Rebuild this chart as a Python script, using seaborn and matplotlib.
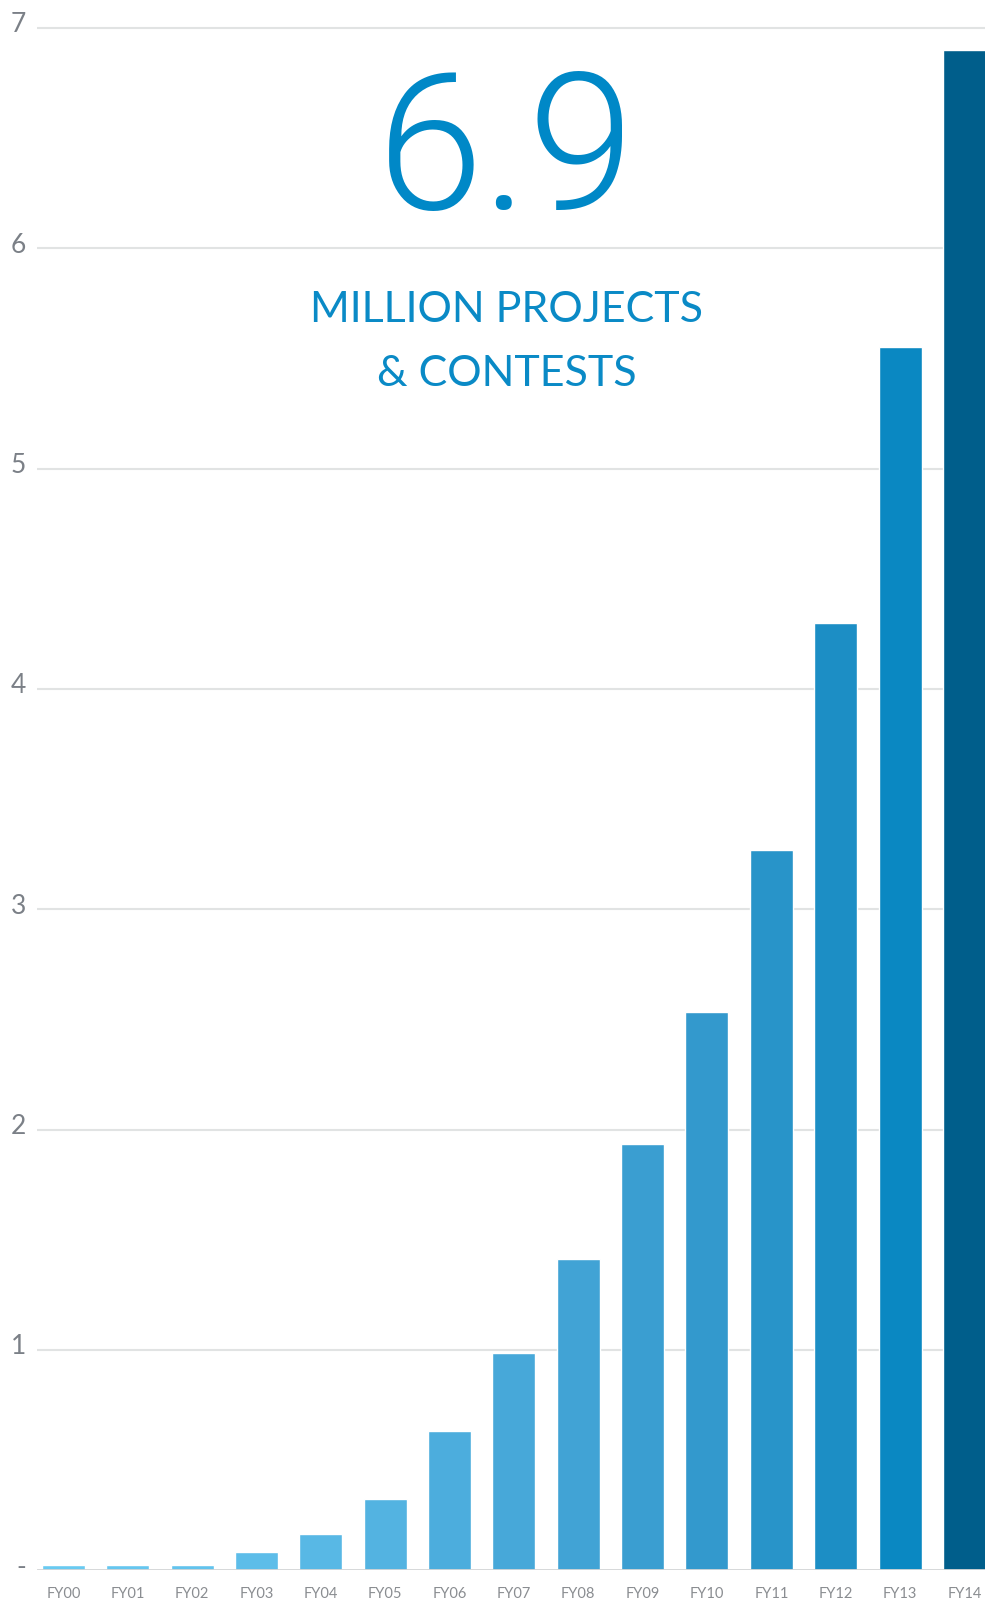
import matplotlib
matplotlib.use("Agg")
import matplotlib.pyplot as plt
import matplotlib.transforms as mtransforms
import seaborn as sns
import pandas as pd

# Fiscal years and totals (millions of projects & contests)
years = ["FY00", "FY01", "FY02", "FY03", "FY04", "FY05", "FY06", "FY07",
         "FY08", "FY09", "FY10", "FY11", "FY12", "FY13", "FY14"]
totals = [0.023, 0.023, 0.023, 0.083, 0.165, 0.322, 0.631, 0.986,
          1.413, 1.935, 2.534, 3.27, 4.30, 5.55, 6.9]
bar_colors = ["#69caf1", "#66c6ef", "#62c3ed", "#5dbde9", "#58b8e5",
              "#53b3e1", "#4caddd", "#47a8d9", "#41a3d5", "#3a9ed1",
              "#3399cd", "#2894c9", "#1c8ec5", "#0a88c2", "#005e8b"]
y_ticks = [0, 1, 2, 3, 4, 5, 6, 7]
y_tick_labels = ["-", "1", "2", "3", "4", "5", "6", "7"]
headline_value = "6.9"
caption_lines = ["MILLION PROJECTS", "& CONTESTS"]

sns.set_theme(style="white")
plt.rcParams["font.family"] = ["Lato", "DejaVu Sans"]

W, H = 985, 1602
fig = plt.figure(figsize=(W / 100, H / 100), dpi=100)
fig.patch.set_facecolor("white")

# axes placement in pixels
ax_left, ax_right = 37, 985
zero_px = 1570.3
px_per_unit = 220.33
y_top = 7.1
ax_bottom = (H - zero_px) / H
ax_height = (y_top * px_per_unit) / H
ax = fig.add_axes([ax_left / W, ax_bottom, (ax_right - ax_left) / W, ax_height])

df = pd.DataFrame({"year": years, "total": totals})
palette = dict(zip(years, bar_colors))
sns.barplot(data=df, x="year", y="total", hue="year", palette=palette,
            legend=False, width=0.668, saturation=1, ax=ax, zorder=3)

ax.set_xlim(-0.41, 14.32)
ax.set_ylim(0, y_top)

# horizontal gridlines
for v in y_ticks[1:]:
    ax.axhline(v, color="#e1e3e3", lw=1.5, zorder=1)
ax.axhline(0, color="#d3d5d6", lw=2, zorder=4)

for s in ax.spines.values():
    s.set_visible(False)

ax.set_yticks(y_ticks)
ax.set_yticklabels(y_tick_labels, fontsize=19, color="#7b8087",
                   fontweight="normal")
ax.tick_params(axis="y", length=0, pad=8)
offset = mtransforms.ScaledTranslation(0, 4 / 72, fig.dpi_scale_trans)
for lbl in ax.get_yticklabels():
    lbl.set_transform(lbl.get_transform() + offset)

ax.set_xticks(range(len(years)))
ax.set_xticklabels(years, fontsize=10.5, color="#8a8d91")
ax.tick_params(axis="x", length=0, pad=12)
ax.set_xlabel("")
ax.set_ylabel("")

# headline number and caption
fig.text(506 / W, 1 - 157 / H, headline_value, ha="center", va="center",
         fontsize=138, color="#0088c7", fontweight=300,
         family=["Roboto", "DejaVu Sans"])
for i, line in enumerate(caption_lines):
    fig.text(507 / W, 1 - (310 + 64 * i) / H, line, ha="center", va="center",
             fontsize=31, color="#0a8ac6")

fig.savefig("out.png", dpi=100, facecolor="white")
